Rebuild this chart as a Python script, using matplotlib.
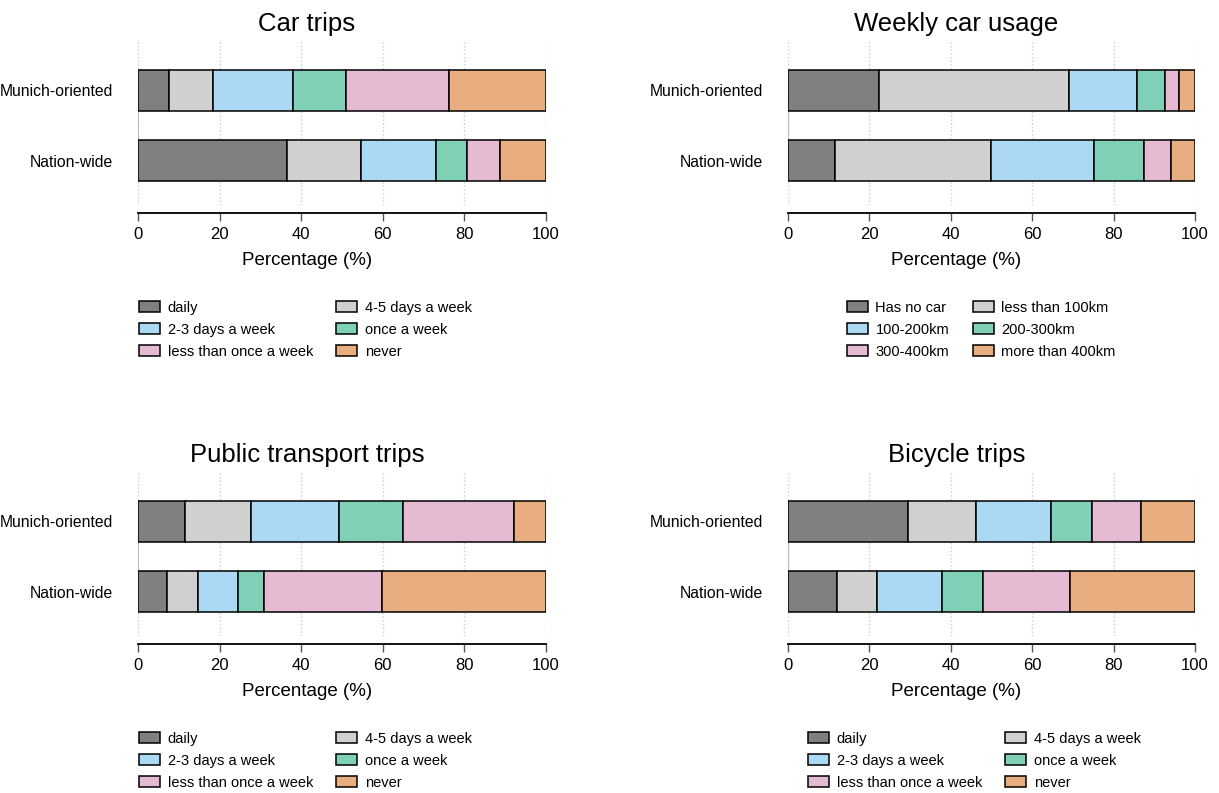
import matplotlib
matplotlib.use("Agg")
import matplotlib.pyplot as plt
import numpy as np

plt.rcParams['font.family'] = ['Liberation Sans', 'DejaVu Sans']

groups = ["Munich-oriented", "Nation-wide"]

freq_labels = ["daily", "4-5 days a week", "2-3 days a week",
               "once a week", "less than once a week", "never"]
km_labels = ["Has no car", "less than 100km", "100-200km",
             "200-300km", "300-400km", "more than 400km"]

# shares per category, rows = groups
car_trips = [[7.5, 10.9, 19.6, 13.0, 25.3, 23.7],
             [36.4, 18.3, 18.3, 7.6, 8.2, 11.2]]
car_usage = [[22.4, 46.7, 16.6, 6.8, 3.6, 3.9],
             [11.7, 38.1, 25.3, 12.4, 6.5, 6.0]]
pt_trips = [[11.5, 16.2, 21.6, 15.6, 27.4, 7.7],
            [7.0, 7.7, 9.8, 6.4, 28.9, 40.2]]
bike_trips = [[29.6, 16.5, 18.6, 10.0, 11.9, 13.4],
              [12.2, 9.6, 16.1, 10.0, 21.4, 30.7]]

colors = ["#808080", "#d0d0d0", "#abd9f3", "#80d0b8", "#e5bad3", "#e8ae80"]

panels = [
    ("Car trips", car_trips, freq_labels, [0.1135, 0.7415], 0.0025),
    ("Weekly car usage", car_usage, km_labels, [0.6462, 0.7415], 0.146),
    ("Public transport trips", pt_trips, freq_labels, [0.1135, 0.198], 0.0025),
    ("Bicycle trips", bike_trips, freq_labels, [0.6462, 0.198], 0.0506),
]

fig = plt.figure(figsize=(12.19, 7.93), dpi=100)

for title, data, labels, pos, leg_x in panels:
    ax = fig.add_axes([pos[0], pos[1], 0.3342, 0.2068])
    data = np.array(data)
    ypos = np.arange(len(groups))
    left = np.zeros(len(groups))
    handles = []
    for i, lab in enumerate(labels):
        h = ax.barh(ypos, data[:, i], left=left, height=0.58, color=colors[i],
                    edgecolor="black", linewidth=1.1, label=lab, zorder=3)
        handles.append(h)
        left += data[:, i]
    ax.set_xlim(0, 100)
    ax.set_ylim(1.63, -0.7)
    ax.set_yticks(ypos)
    ax.set_yticklabels(groups, fontsize=11.3)
    ax.set_xticks([0, 20, 40, 60, 80, 100])
    ax.tick_params(axis="x", labelsize=12, length=6, color="#555555", width=1, pad=4)
    ax.tick_params(axis="y", length=0, pad=18)
    ax.grid(axis="x", linestyle=":", color="#cccccc", linewidth=1, zorder=0)
    for s in ["top", "right"]:
        ax.spines[s].set_visible(False)
    ax.spines["bottom"].set_position(("outward", 6))
    ax.spines["bottom"].set_linewidth(1.3)
    ax.spines["left"].set_color("#bbbbbb")
    ax.spines["left"].set_bounds(0, 1)
    ax.set_title(title, fontsize=18.5, x=0.414, pad=7)
    ax.set_xlabel("Percentage (%)", fontsize=13.5)
    ax.xaxis.set_label_coords(0.414, -0.285)
    order = [0, 2, 4, 1, 3, 5]
    ax.legend([handles[k] for k in order], [labels[k] for k in order],
              loc="upper left", bbox_to_anchor=(leg_x, -0.585), ncol=2,
              frameon=False, fontsize=10.5, borderpad=0, borderaxespad=0,
              handlelength=1.44, handleheight=0.8, handletextpad=0.5,
              columnspacing=1.6, labelspacing=0.55)

fig.savefig("out.png", dpi=100)
